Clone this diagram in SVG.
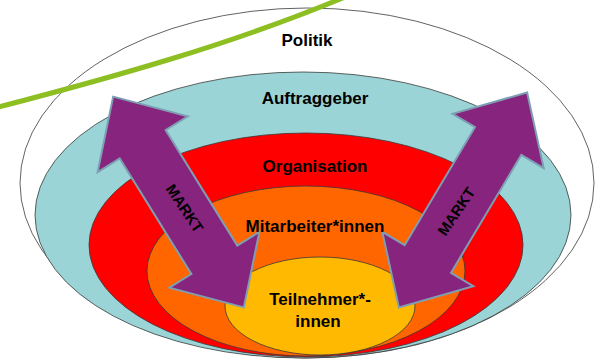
<svg xmlns="http://www.w3.org/2000/svg" xmlns:xlink="http://www.w3.org/1999/xlink" width="600" height="360" viewBox="0 0 600 360">
  <style>
    .ring { stroke: #3a3a3a; stroke-width: 0.8; }
    .lbl { font-family: "Liberation Sans", Arial, sans-serif; font-weight: bold; font-size: 17px; fill: #000; text-anchor: middle; }
    .arrow { fill: #87247D; stroke: #7E9FB3; stroke-width: 2; stroke-linejoin: miter; }
    .markt { font-family: "Liberation Sans", Arial, sans-serif; font-weight: bold; font-size: 15px; fill: #000; text-anchor: middle; }
  </style>
  <defs>
    <path id="dblarrow" d="M -124 0 L -68 -53 L -68 -27 L 68 -27 L 68 -53 L 124 0 L 68 53 L 68 27 L -68 27 L -68 53 Z"/>
  </defs>
  <rect width="600" height="360" fill="#ffffff"/>

  <g id="politik">
    <ellipse class="ring" cx="307" cy="183" rx="287" ry="175" fill="#ffffff" stroke="#555555"/>
  </g>
  <g id="auftraggeber">
    <ellipse class="ring" cx="303" cy="215" rx="268" ry="143" fill="#9AD4D6"/>
  </g>
  <g id="organisation">
    <ellipse class="ring" cx="306" cy="245" rx="217" ry="112" fill="#FF0000"/>
  </g>
  <g id="mitarbeiter">
    <ellipse class="ring" cx="306" cy="271" rx="159" ry="85" fill="#FF6600"/>
  </g>
  <g id="teilnehmer">
    <ellipse class="ring" cx="320" cy="306" rx="95" ry="49" fill="#FFB900"/>
  </g>

  <g id="connectors">
    <g id="markt-left">
      <use xlink:href="#dblarrow" href="#dblarrow" class="arrow" transform="translate(178.5 202) rotate(58.2)"/>
      <text class="markt" transform="translate(184.5 208.5) rotate(56)" y="5">MARKT</text>
    </g>
    <g id="markt-right">
      <use xlink:href="#dblarrow" href="#dblarrow" class="arrow" transform="translate(463 200) rotate(-59.2) scale(1.01 1)"/>
      <text class="markt" transform="translate(456.5 211.5) rotate(-56)" y="5">MARKT</text>
    </g>
  </g>

  <g id="labels">
    <text class="lbl" x="307" y="46">Politik</text>
    <text class="lbl" x="315" y="104">Auftraggeber</text>
    <text class="lbl" x="315" y="172">Organisation</text>
    <text class="lbl" x="315" y="232">Mitarbeiter*innen</text>
    <text class="lbl" x="320" y="305">Teilnehmer*-</text>
    <text class="lbl" x="318" y="327">innen</text>
  </g>

  <g id="green-line">
    <path d="M -5 108 C 110 78, 230 45, 345 -3" fill="none" stroke="#8DBE22" stroke-width="5"/>
  </g>
</svg>
